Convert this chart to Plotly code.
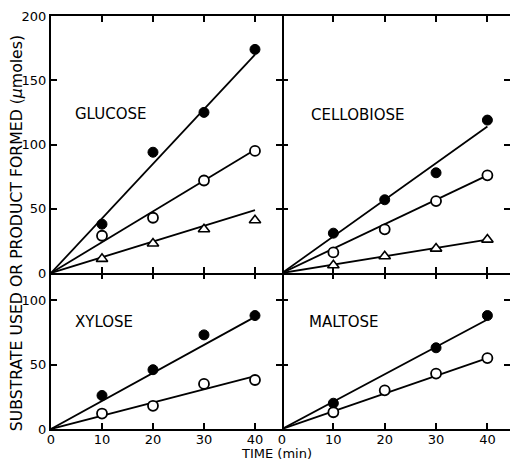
import plotly.graph_objects as go

# ---- data ----
time = [10, 20, 30, 40]
fit_t = [0, 40]

glucose_filled = [38, 94, 125, 174]
glucose_open = [29, 43, 72, 95]
glucose_tri = [11, 23, 34, 41]
glucose_fit_end = [170, 96, 49]

cellobiose_filled = [31, 57, 78, 119]
cellobiose_open = [16, 34, 56, 76]
cellobiose_tri = [6, 13, 19, 26]
cellobiose_fit_end = [114, 76, 26]

xylose_filled = [26, 46, 73, 88]
xylose_open = [12, 18, 35, 38]
xylose_fit_end = [87, 41]

maltose_filled_t = [10, 30, 40]
maltose_filled = [20, 63, 88]
maltose_open = [13, 30, 43, 55]
maltose_fit_end = [85, 55]

panel_names = ["GLUCOSE", "CELLOBIOSE", "XYLOSE", "MALTOSE"]
x_ticks = [0, 10, 20, 30, 40]
y_ticks_top = [0, 50, 100, 150, 200]
y_ticks_bottom = [0, 50, 100]

FONT = "DejaVu Sans"
fig = go.Figure()

filled = dict(symbol="circle", size=10, color="black", line=dict(color="black", width=1))
openc = dict(symbol="circle", size=10, color="white", line=dict(color="black", width=1.8))
tri = dict(symbol="triangle-up", size=10, color="white", line=dict(color="black", width=1.6))


def add_panel(xa, ya, fit_ends, series):
    for end in fit_ends:
        fig.add_trace(go.Scatter(x=fit_t, y=[0, end], mode="lines",
                                 line=dict(color="black", width=1.8),
                                 xaxis=xa, yaxis=ya, showlegend=False, hoverinfo="skip"))
    for xs, ys, mk in series:
        fig.add_trace(go.Scatter(x=xs, y=ys, mode="markers", marker=mk,
                                 xaxis=xa, yaxis=ya, showlegend=False))


add_panel("x", "y", glucose_fit_end,
          [(time, glucose_filled, filled), (time, glucose_open, openc), (time, glucose_tri, tri)])
add_panel("x2", "y2", cellobiose_fit_end,
          [(time, cellobiose_filled, filled), (time, cellobiose_open, openc), (time, cellobiose_tri, tri)])
add_panel("x3", "y3", xylose_fit_end,
          [(time, xylose_filled, filled), (time, xylose_open, openc)])
add_panel("x4", "y4", maltose_fit_end,
          [(maltose_filled_t, maltose_filled, filled), (time, maltose_open, openc)])

L = 0.5033
B = 0.3777
XR_L = [0, 45.3]
XR_R = [0, 44.4]
YR_T = [0, 200]
YR_B = [0, 121]

tickfont = dict(family=FONT, size=13, color="black")
common = dict(showgrid=False, zeroline=False, showline=True, linecolor="black", linewidth=2,
              ticks="inside", ticklen=6, tickwidth=1.6, tickcolor="black", tickfont=tickfont,
              mirror="ticks")
noline = {**common, "showline": False, "mirror": False}
tickonly = dict(showticklabels=False, showline=False, showgrid=False, zeroline=False,
                ticks="inside", ticklen=6, tickwidth=1.6, tickcolor="black")

fig.update_layout(
    xaxis=dict(domain=[0, L], range=XR_L, anchor="y", tickvals=x_ticks, showticklabels=False, **common),
    yaxis=dict(domain=[B, 1], range=YR_T, anchor="x", tickvals=y_ticks_top, **common),
    xaxis2=dict(domain=[L, 1], range=XR_R, anchor="y2", tickvals=x_ticks, showticklabels=False, **common),
    yaxis2=dict(domain=[B, 1], range=YR_T, anchor="x2", tickvals=y_ticks_top, showticklabels=False, **noline),
    xaxis3=dict(domain=[0, L], range=XR_L, anchor="y3", tickvals=x_ticks, ticklabelstandoff=-3,
                **{**common, "mirror": False}),
    yaxis3=dict(domain=[0, B], range=YR_B, anchor="x3", tickvals=y_ticks_bottom, **common),
    xaxis4=dict(domain=[L, 1], range=XR_R, anchor="y4", tickvals=x_ticks, ticklabelstandoff=-3,
                **{**common, "mirror": False}),
    yaxis4=dict(domain=[0, B], range=YR_B, anchor="x4", tickvals=y_ticks_bottom, showticklabels=False, **noline),
    # tick-only helper axes (no frame line)
    yaxis5=dict(overlaying="y2", side="right", anchor="x2", range=YR_T, tickvals=y_ticks_top, **tickonly),
    yaxis6=dict(overlaying="y4", side="right", anchor="x4", range=YR_B, tickvals=y_ticks_bottom, **tickonly),
    xaxis5=dict(overlaying="x3", side="top", anchor="y3", range=XR_L, tickvals=x_ticks, **tickonly),
    xaxis6=dict(overlaying="x4", side="top", anchor="y4", range=XR_R, tickvals=x_ticks, **tickonly),
    width=510, height=461,
    margin=dict(l=51, r=0, t=16, b=32),
    plot_bgcolor="white", paper_bgcolor="white",
    font=dict(family=FONT, color="black"),
)

# empty traces so the helper axes get drawn
fig.add_trace(go.Scatter(x=[None], y=[None], xaxis="x2", yaxis="y5", showlegend=False))
fig.add_trace(go.Scatter(x=[None], y=[None], xaxis="x4", yaxis="y6", showlegend=False))
fig.add_trace(go.Scatter(x=[None], y=[None], xaxis="x5", yaxis="y3", showlegend=False))
fig.add_trace(go.Scatter(x=[None], y=[None], xaxis="x6", yaxis="y4", showlegend=False))

label_font = dict(family=FONT, size=15, color="black")
panel_pos = [("x", "y", 4.4, 124), ("x2", "y2", 5.2, 123), ("x3", "y3", 4.4, 83), ("x4", "y4", 4.8, 83)]
for name, (xr, yr, px, py) in zip(panel_names, panel_pos):
    fig.add_annotation(text=name, x=px, y=py, xref=xr, yref=yr, xanchor="left", yanchor="middle",
                       showarrow=False, font=label_font)

fig.add_annotation(text="SUBSTRATE USED OR PRODUCT FORMED (<i>\u03bc</i>moles)", xref="paper", yref="paper",
                   x=-0.0763, y=0.474, xanchor="center", yanchor="middle", textangle=-90,
                   showarrow=False, font=dict(family=FONT, size=15.7, color="black"))
fig.add_annotation(text="TIME (min)", xref="paper", yref="paper", x=0.4913, y=-0.0605,
                   xanchor="center", yanchor="middle", showarrow=False,
                   font=dict(family=FONT, size=13, color="black"))

fig.write_html("out.html", config={"displayModeBar": False},
               post_script="document.body.style.margin='0';document.body.style.padding='0';")
